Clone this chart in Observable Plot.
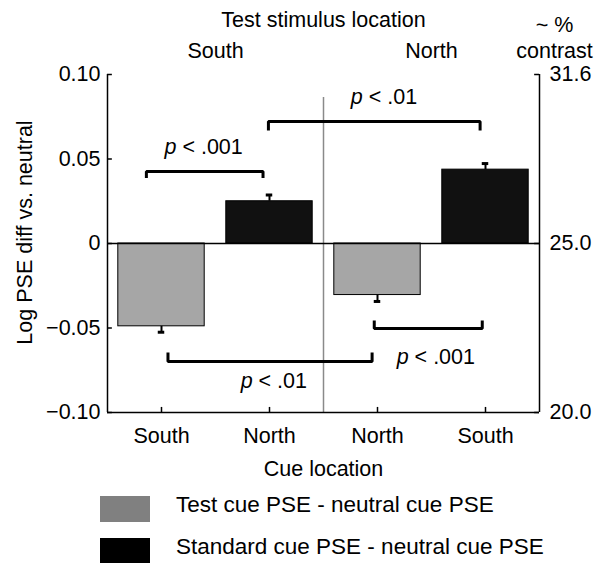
<!DOCTYPE html>
<html>
<head>
<meta charset="utf-8">
<script src="https://cdn.jsdelivr.net/npm/d3@7"></script>
<script src="https://cdn.jsdelivr.net/npm/@observablehq/plot@0.6"></script>
<style>
  html, body { margin: 0; padding: 0; background: white; }
  #wrap { position: relative; width: 605px; height: 563px; overflow: hidden; font-family: "Liberation Sans", Arial, sans-serif; }
  .sw { position: absolute; left: 100px; width: 50px; }
  .lt { position: absolute; left: 176px; font-size: 22.5px; line-height: 22px; white-space: nowrap; color: #000; }
</style>
</head>
<body>
<div id="wrap"></div>
<script>
// ---- data ----
const cueLabels = ["South", "North", "North", "South"];          // cue location (x axis)
const testLocations = ["South", "North"];                         // test stimulus location (top)
const seriesNames = ["Test cue PSE - neutral cue PSE", "Standard cue PSE - neutral cue PSE"];
const seriesOfBar = [0, 1, 0, 1];
const values = [-0.049, 0.025, -0.0305, 0.0437];                  // log PSE diff vs neutral
const errors = [0.0035, 0.0037, 0.0038, 0.0036];
const yTicks = [0.10, 0.05, 0, -0.05, -0.10];
const yTickLabels = ["0.10", "0.05", "0", "\u22120.05", "\u22120.10"];
const rightTicks = [0.10, 0, -0.10];
const rightTickLabels = ["31.6", "25.0", "20.0"];
// significance brackets (x in bar-slot units, y in data units)
const bracketX1 = [0.36, 1.49, 2.47, 0.56];
const bracketX2 = [1.44, 3.45, 3.47, 2.45];
const bracketY = [0.0426, 0.0722, -0.0503, -0.0698];
const bracketLeg = [-0.0038, -0.0053, 0.0047, 0.0053];
const bracketLabels = ["p < .001", "p < .01", "p < .001", "p < .01"];
const bracketLabelX = [0.89, 2.56, 3.04, 1.54];
const bracketLabelY = [0.0568, 0.0864, -0.0675, -0.0817];

const colors = ["#a6a6a6", "#111111"];
const legendColors = ["#808080", "#000000"];

// ---- derived tables ----
const bars = values.map((v, i) => ({
  i, v, e: errors[i], s: seriesOfBar[i],
  x1: i + 0.1, x2: i + 0.9, xc: i + 0.5,
  yEnd: v + Math.sign(v) * errors[i]
}));
const xCenters = bars.map(d => d.xc);
const bracketPts = [];
bracketX1.forEach((x1, k) => {
  const x2 = bracketX2[k], y = bracketY[k], l = bracketLeg[k];
  bracketPts.push({k, x: x1, y: y + l}, {k, x: x1, y}, {k, x: x2, y}, {k, x: x2, y: y + l});
});
const bracketText = bracketLabels.map((t, k) => ({t, x: bracketLabelX[k], y: bracketLabelY[k]}));

const F = 21.5;
const chart = Plot.plot({
  width: 605, height: 485,
  marginLeft: 107, marginRight: 66, marginTop: 74, marginBottom: 73,
  x: {domain: [0, 4], axis: null},
  y: {domain: [-0.1, 0.1], axis: null},
  style: {fontFamily: "'Liberation Sans', Arial, sans-serif", fontSize: F + "px", background: "white", color: "black", overflow: "visible"},
  marks: [
    // divider between test locations
    Plot.ruleX([2], {y1: -0.1, y2: 0.0864, stroke: "#8a8a8a", strokeWidth: 1.5}),
    // bars
    Plot.rect(bars, {x1: "x1", x2: "x2", y1: 0, y2: "v", fill: d => colors[d.s], stroke: "#000", strokeWidth: 1}),
    // error bars
    Plot.ruleX(bars, {x: "xc", y1: "v", y2: "yEnd", stroke: "#000", strokeWidth: 2}),
    Plot.ruleY(bars, {y: "yEnd", x1: d => d.xc - 0.03, x2: d => d.xc + 0.03, stroke: "#000", strokeWidth: 3}),
    // zero line
    Plot.ruleY([0], {x1: 0, x2: 4, stroke: "#000", strokeWidth: 1.5}),
    // axis lines
    Plot.ruleX([0, 4], {y1: -0.1, y2: 0.1, stroke: "#000", strokeWidth: 1.5}),
    Plot.ruleY([-0.1], {x1: 0, x2: 4, stroke: "#000", strokeWidth: 1.5}),
    // inward ticks
    Plot.ruleY(yTicks, {y: d => d, x1: 0, x2: 0.045, stroke: "#000", strokeWidth: 1.5}),
    Plot.ruleY(rightTicks, {y: d => d, x1: 3.955, x2: 4, stroke: "#000", strokeWidth: 1.5}),
    Plot.ruleX(xCenters, {x: d => d, y1: -0.1, y2: -0.097, stroke: "#000", strokeWidth: 1.5}),
    // axes labels
    Plot.axisY({anchor: "left", ticks: yTicks, tickFormat: d => yTickLabels[yTicks.indexOf(d)], tickSize: 0, tickPadding: 7, label: null, fontSize: F}),
    Plot.axisY({anchor: "right", ticks: rightTicks, tickFormat: d => rightTickLabels[rightTicks.indexOf(d)], tickSize: 0, tickPadding: 10, label: null, fontSize: F}),
    Plot.axisX({anchor: "bottom", ticks: xCenters, tickFormat: d => cueLabels[xCenters.indexOf(d)], tickSize: 0, tickPadding: 15, label: null, fontSize: F}),
    Plot.text(["Cue location"], {x: 2, frameAnchor: "bottom", lineAnchor: "middle", dy: 57, fontSize: F}),
    Plot.text(["Log PSE diff vs. neutral"], {frameAnchor: "left", textAnchor: "middle", lineAnchor: "middle", rotate: -90, dx: -82, dy: -11, fontSize: F}),
    // top titles
    Plot.text(["Test stimulus location"], {x: 2, frameAnchor: "top", lineAnchor: "middle", dy: -54, fontSize: F}),
    Plot.text(testLocations, {x: (d, i) => 1 + 2 * i, text: d => d, frameAnchor: "top", lineAnchor: "middle", dy: -23, fontSize: F}),
    Plot.text(["~ %"], {x: 4, frameAnchor: "top", lineAnchor: "middle", dx: 15, dy: -49, fontSize: F}),
    Plot.text(["contrast"], {x: 4, frameAnchor: "top", lineAnchor: "middle", dx: 15, dy: -23, fontSize: F}),
    // significance brackets
    Plot.line(bracketPts, {x: "x", y: "y", z: "k", stroke: "#000", strokeWidth: 3, strokeLinejoin: "miter", strokeLinecap: "butt"}),
    Plot.text(bracketText, {x: "x", y: "y", text: "t", lineAnchor: "middle", fontSize: F})
  ]
});

// italic "p" in significance labels
chart.querySelectorAll("text").forEach(t => {
  if (t.children.length === 0 && /^p </.test(t.textContent)) {
    const rest = t.textContent.slice(1);
    t.textContent = "";
    const p = document.createElementNS("http://www.w3.org/2000/svg", "tspan");
    p.setAttribute("font-style", "italic");
    p.textContent = "p";
    t.appendChild(p);
    t.appendChild(document.createTextNode(rest));
  }
});

const wrap = document.getElementById("wrap");
chart.style.position = "absolute";
chart.style.left = "0px";
chart.style.top = "0px";
wrap.appendChild(chart);

// legend
const swTops = [496, 538];
const txtTops = [494, 536];
seriesNames.forEach((name, i) => {
  const sw = document.createElement("div");
  sw.className = "sw";
  sw.style.top = swTops[i] + "px";
  sw.style.height = "26px";
  sw.style.background = legendColors[i];
  wrap.appendChild(sw);
  const lt = document.createElement("div");
  lt.className = "lt";
  lt.style.top = txtTops[i] + "px";
  lt.textContent = name;
  wrap.appendChild(lt);
});
</script>
</body>
</html>
